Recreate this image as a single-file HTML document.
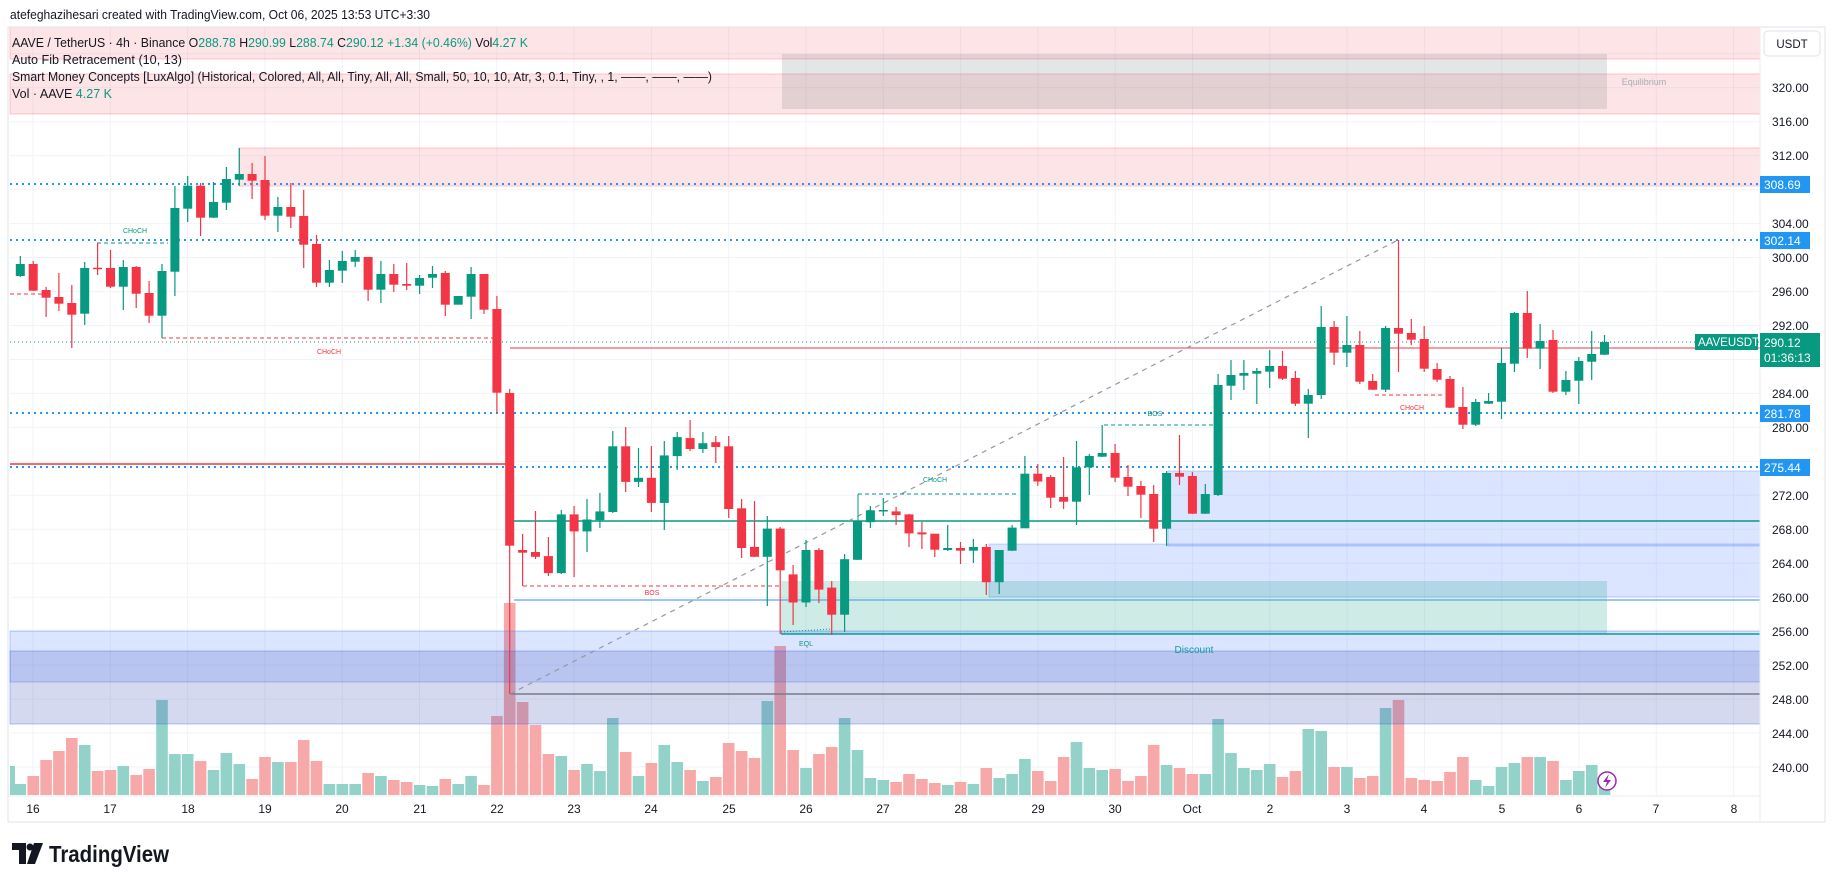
<!DOCTYPE html>
<html><head><meta charset="utf-8"><style>
html,body{margin:0;padding:0;background:#fff;}
svg{display:block;font-family:"Liberation Sans",sans-serif;}
.g{fill:#089981}.r{fill:#f23645}
</style></head><body>
<svg width="1835" height="883" viewBox="0 0 1835 883" xmlns="http://www.w3.org/2000/svg">
<rect width="1835" height="883" fill="#fff"/>
<path stroke="#f0f3fa" stroke-width="1" fill="none" d="M10 767H1760M10 733H1760M10 699.1H1760M10 665.1H1760M10 631.2H1760M10 597.2H1760M10 563.2H1760M10 529.3H1760M10 495.3H1760M10 461.4H1760M10 427.4H1760M10 393.4H1760M10 359.5H1760M10 325.5H1760M10 291.6H1760M10 257.6H1760M10 223.6H1760M10 189.7H1760M10 155.7H1760M10 121.8H1760M10 87.8H1760M10 53.8H1760M33 27V796M110.3 27V796M187.6 27V796M264.9 27V796M342.2 27V796M419.5 27V796M496.8 27V796M574.1 27V796M651.4 27V796M728.7 27V796M806 27V796M883.3 27V796M960.6 27V796M1037.9 27V796M1115.2 27V796M1192.5 27V796M1269.8 27V796M1347.1 27V796M1424.4 27V796M1501.7 27V796M1579 27V796M1656.3 27V796M1733.6 27V796"/>
<!-- volume -->
<path fill="#92d2c9" d="M10 766h5V795h-5zM14.5 784h11.6V795h-11.6zM78.9 745h11.6V795h-11.6zM117.5 766h11.6V795h-11.6zM156.2 700h11.6V795h-11.6zM169.1 754h11.6V795h-11.6zM181.9 754h11.6V795h-11.6zM207.7 770h11.6V795h-11.6zM220.6 753h11.6V795h-11.6zM233.5 764h11.6V795h-11.6zM272.1 762h11.6V795h-11.6zM323.6 784h11.6V795h-11.6zM336.5 784h11.6V795h-11.6zM349.4 784h11.6V795h-11.6zM375.1 776h11.6V795h-11.6zM413.8 785h11.6V795h-11.6zM426.7 786h11.6V795h-11.6zM452.4 784h11.6V795h-11.6zM465.3 776h11.6V795h-11.6zM555.5 756h11.6V795h-11.6zM581.2 764h11.6V795h-11.6zM594.1 771h11.6V795h-11.6zM607 718h11.6V795h-11.6zM632.7 776h11.6V795h-11.6zM658.5 745h11.6V795h-11.6zM671.4 762h11.6V795h-11.6zM697.1 781h11.6V795h-11.6zM761.5 701h11.6V795h-11.6zM800.2 768h11.6V795h-11.6zM838.8 718h11.6V795h-11.6zM851.7 750h11.6V795h-11.6zM864.6 778h11.6V795h-11.6zM877.5 780h11.6V795h-11.6zM941.9 785h11.6V795h-11.6zM967.6 784h11.6V795h-11.6zM993.4 778h11.6V795h-11.6zM1006.3 774h11.6V795h-11.6zM1019.1 759h11.6V795h-11.6zM1070.7 742h11.6V795h-11.6zM1083.5 768h11.6V795h-11.6zM1096.4 770h11.6V795h-11.6zM1160.8 765h11.6V795h-11.6zM1199.5 774h11.6V795h-11.6zM1212.3 719h11.6V795h-11.6zM1225.2 753h11.6V795h-11.6zM1238.1 768h11.6V795h-11.6zM1251 770h11.6V795h-11.6zM1263.9 764h11.6V795h-11.6zM1302.5 729h11.6V795h-11.6zM1315.4 731h11.6V795h-11.6zM1341.1 767h11.6V795h-11.6zM1379.8 708h11.6V795h-11.6zM1469.9 780h11.6V795h-11.6zM1482.8 786h11.6V795h-11.6zM1495.7 767h11.6V795h-11.6zM1508.6 763h11.6V795h-11.6zM1534.3 757h11.6V795h-11.6zM1560.1 780h11.6V795h-11.6zM1573 771h11.6V795h-11.6zM1585.9 765h11.6V795h-11.6zM1598.7 777h11.6V795h-11.6z"/>
<path fill="#f7a9a9" d="M27.4 776h11.6V795h-11.6zM40.3 760h11.6V795h-11.6zM53.1 751h11.6V795h-11.6zM66 738h11.6V795h-11.6zM91.8 771h11.6V795h-11.6zM104.7 770h11.6V795h-11.6zM130.4 775h11.6V795h-11.6zM143.3 769h11.6V795h-11.6zM194.8 761h11.6V795h-11.6zM246.3 779h11.6V795h-11.6zM259.2 757h11.6V795h-11.6zM285 762h11.6V795h-11.6zM297.9 740h11.6V795h-11.6zM310.7 761h11.6V795h-11.6zM362.3 773h11.6V795h-11.6zM388 780h11.6V795h-11.6zM400.9 782h11.6V795h-11.6zM439.5 779h11.6V795h-11.6zM478.2 785h11.6V795h-11.6zM491.1 716h11.6V795h-11.6zM503.9 603h11.6V795h-11.6zM516.8 702h11.6V795h-11.6zM529.7 725h11.6V795h-11.6zM542.6 754h11.6V795h-11.6zM568.3 770h11.6V795h-11.6zM619.9 752h11.6V795h-11.6zM645.6 763h11.6V795h-11.6zM684.3 770h11.6V795h-11.6zM710 777h11.6V795h-11.6zM722.9 743h11.6V795h-11.6zM735.8 751h11.6V795h-11.6zM748.7 758h11.6V795h-11.6zM774.4 646h11.6V795h-11.6zM787.3 750h11.6V795h-11.6zM813.1 754h11.6V795h-11.6zM825.9 747h11.6V795h-11.6zM890.3 782h11.6V795h-11.6zM903.2 774h11.6V795h-11.6zM916.1 779h11.6V795h-11.6zM929 783h11.6V795h-11.6zM954.7 782h11.6V795h-11.6zM980.5 768h11.6V795h-11.6zM1032 771h11.6V795h-11.6zM1044.9 781h11.6V795h-11.6zM1057.8 757h11.6V795h-11.6zM1109.3 769h11.6V795h-11.6zM1122.2 781h11.6V795h-11.6zM1135.1 776h11.6V795h-11.6zM1147.9 745h11.6V795h-11.6zM1173.7 768h11.6V795h-11.6zM1186.6 774h11.6V795h-11.6zM1276.7 777h11.6V795h-11.6zM1289.6 771h11.6V795h-11.6zM1328.3 767h11.6V795h-11.6zM1354 778h11.6V795h-11.6zM1366.9 776h11.6V795h-11.6zM1392.7 700h11.6V795h-11.6zM1405.5 778h11.6V795h-11.6zM1418.4 780h11.6V795h-11.6zM1431.3 781h11.6V795h-11.6zM1444.2 772h11.6V795h-11.6zM1457.1 757h11.6V795h-11.6zM1521.5 757h11.6V795h-11.6zM1547.2 761h11.6V795h-11.6z"/>
<!-- zones -->
<rect x="10" y="27" width="1750" height="32" fill="rgba(242,54,69,0.13)" stroke="rgba(242,54,69,0.25)"/>
<rect x="10" y="74" width="1750" height="40" fill="rgba(242,54,69,0.13)" stroke="rgba(242,54,69,0.25)"/>
<rect x="782" y="54" width="825" height="55" fill="rgba(120,123,134,0.2)"/>
<rect x="239" y="148" width="1521" height="38" fill="rgba(242,54,69,0.13)" stroke="rgba(242,54,69,0.25)"/>
<rect x="1168" y="471" width="592" height="75" fill="rgba(41,98,255,0.17)" stroke="rgba(41,98,255,0.25)"/>
<rect x="989" y="544" width="771" height="53" fill="rgba(41,98,255,0.17)" stroke="rgba(41,98,255,0.25)"/>
<rect x="781" y="581" width="826" height="53" fill="rgba(8,153,129,0.2)"/>
<rect x="10" y="631" width="1750" height="51" fill="rgba(41,98,255,0.17)" stroke="rgba(41,98,255,0.3)"/>
<rect x="10" y="651" width="1750" height="73" fill="rgba(63,81,181,0.22)" stroke="rgba(41,98,255,0.35)"/>
<!-- lines -->
<g fill="none">
<line x1="10" y1="184" x2="1760" y2="184" stroke="#2196f3" stroke-width="2" stroke-dasharray="2 4"/>
<line x1="10" y1="240" x2="1760" y2="240" stroke="#2196f3" stroke-width="2" stroke-dasharray="2 4"/>
<line x1="10" y1="413" x2="1760" y2="413" stroke="#2196f3" stroke-width="2" stroke-dasharray="2 4"/>
<line x1="10" y1="467" x2="1760" y2="467" stroke="#2196f3" stroke-width="2" stroke-dasharray="2 4"/>
<line x1="10" y1="464" x2="510" y2="464" stroke="#f23645" stroke-width="1.5"/>
<line x1="10" y1="342" x2="1760" y2="342" stroke="#089981" stroke-width="1" stroke-dasharray="1 3"/>
<line x1="510" y1="348" x2="1760" y2="348" stroke="#f23645" stroke-width="1"/>
<line x1="514" y1="521" x2="1760" y2="521" stroke="#089981" stroke-width="1.5"/>
<line x1="514" y1="600" x2="1760" y2="600" stroke="#5aa7e8" stroke-width="1.2"/>
<line x1="781" y1="634" x2="1760" y2="634" stroke="#0f9a9a" stroke-width="1.5"/>
<line x1="510" y1="694" x2="1760" y2="694" stroke="#787b86" stroke-width="1.5"/>
<line x1="510" y1="694" x2="1398" y2="240" stroke="#9598a1" stroke-width="1.2" stroke-dasharray="5 5"/>
<line x1="10" y1="294" x2="42" y2="294" stroke="#f23645" stroke-width="1" stroke-dasharray="4 3"/>
<line x1="162" y1="338" x2="493" y2="338" stroke="#f23645" stroke-width="1" stroke-dasharray="4 3"/>
<line x1="97" y1="243" x2="168" y2="243" stroke="#089981" stroke-width="1" stroke-dasharray="4 3"/>
<line x1="523" y1="586" x2="781" y2="586" stroke="#f23645" stroke-width="1" stroke-dasharray="4 3"/>
<line x1="858" y1="494" x2="1018" y2="494" stroke="#089981" stroke-width="1" stroke-dasharray="4 3"/>
<line x1="858" y1="494" x2="858" y2="521" stroke="#089981" stroke-width="1"/>
<line x1="1104" y1="425" x2="1216" y2="425" stroke="#089981" stroke-width="1" stroke-dasharray="4 3"/>
<line x1="1375" y1="395" x2="1445" y2="395" stroke="#f23645" stroke-width="1" stroke-dasharray="4 3"/>
<line x1="781" y1="632" x2="832" y2="629" stroke="#089981" stroke-width="1" stroke-dasharray="1 2"/>
</g>
<!-- wicks -->
<path fill="none" stroke="#089981" stroke-width="1.2" d="M20.3 256V277M84.7 262V325M123.3 260V310M162 264V338M174.9 186V296M187.7 176V222M213.5 182V218M226.4 167V210M239.3 148V186M277.9 197V232M329.4 260V287M342.3 251V283M355.2 250V267M380.9 261V303M419.6 275V294M432.5 266V288M471.1 267V319M561.3 510V574M587 499V552M599.9 493V528M612.8 431V513M638.5 448V487M664.3 441V530M677.2 432V470M702.9 432V453M767.3 516V606M806 540V607M844.6 554V632M857.5 521V560M870.4 506V528M883.3 498V516M947.7 525V551M973.4 539V563M999.2 550V594M1012.1 525V551M1024.9 456V528M1076.5 441V525M1089.3 454V495M1102.2 425V457M1166.6 471V546M1205.3 484V514M1218.1 374V496M1231 360V400M1243.9 360V390M1256.8 368V404M1269.7 350V388M1308.3 389V438M1321.2 306V399M1346.9 316V367M1385.6 326V392M1475.7 399V426M1488.6 393V404M1501.5 348V419M1514.4 312V372M1540.1 324V369M1565.9 371V395M1578.8 357V404M1591.7 331V380M1604.5 335V355"/>
<path fill="none" stroke="#f23645" stroke-width="1.2" d="M33.2 261V291M46.1 287V317M58.9 273V311M71.8 285V348M97.6 243V275M110.5 250V288M136.2 266V308M149.1 281V323M200.6 183V236M252.1 163V199M265 156V220M290.8 183V228M303.7 190V268M316.5 235V287M368.1 257V301M393.8 264V292M406.7 263V290M445.3 271V316M484 274V314M496.9 296V413M509.7 389V694M522.6 534V586M535.5 511V559M548.4 537V576M574.1 506V577M625.7 427V492M651.4 446V512M690.1 420V451M715.8 436V463M728.7 436V518M741.6 499V558M754.5 501V557M780.2 527V634M793.1 565V625M818.9 548V603M831.7 581V635M896.1 507V525M909 514V547M921.9 522V549M934.8 534V557M960.5 542V564M986.3 544V595M1037.8 464V486M1050.7 475V508M1063.6 457V509M1115.1 444V482M1128 465V496M1140.9 481V518M1153.7 485V542M1179.5 435V485M1192.4 472V514M1282.5 351V380M1295.4 371V406M1334.1 321V365M1359.8 331V384M1372.7 374V390M1398.5 240V372M1411.3 319V345M1424.2 326V372M1437.1 363V382M1450 376V408M1462.9 387V429M1527.3 291V358M1553 330V393"/>
<!-- bodies -->
<g class="g">
<rect x="15.8" y="264" width="9" height="12"/><rect x="80.2" y="268" width="9" height="45.7"/><rect x="118.8" y="267" width="9" height="19.7"/><rect x="157.5" y="271" width="9" height="44.7"/><rect x="170.4" y="208" width="9" height="63.7"/><rect x="183.2" y="185.7" width="9" height="23"/><rect x="209" y="202" width="9" height="15.7"/><rect x="221.9" y="179" width="9" height="23.7"/><rect x="234.8" y="174" width="9" height="5.7"/><rect x="273.4" y="207" width="9" height="8.7"/><rect x="324.9" y="270" width="9" height="12.7"/><rect x="337.8" y="261" width="9" height="9.7"/><rect x="350.7" y="257" width="9" height="4.7"/><rect x="376.4" y="274" width="9" height="15.7"/><rect x="415.1" y="278" width="9" height="7.7"/><rect x="428" y="274" width="9" height="3.7"/><rect x="453.7" y="296" width="9" height="8.7"/><rect x="466.6" y="274" width="9" height="22.7"/>
<rect x="556.8" y="514.4" width="9" height="58.7"/><rect x="582.5" y="519.5" width="9" height="11.9"/><rect x="595.4" y="511.4" width="9" height="8.8"/><rect x="608.3" y="446.3" width="9" height="65.7"/><rect x="634" y="477.8" width="9" height="4.1"/><rect x="659.8" y="455.4" width="9" height="47.5"/><rect x="672.7" y="437.1" width="9" height="19"/><rect x="698.4" y="443.2" width="9" height="5.8"/><rect x="762.8" y="528.6" width="9" height="28.2"/><rect x="801.5" y="550" width="9" height="52.5"/><rect x="840.1" y="559.2" width="9" height="55.5"/><rect x="853" y="521.5" width="9" height="38.3"/><rect x="865.9" y="510.3" width="9" height="11.9"/><rect x="878.8" y="510" width="9" height="1.5"/><rect x="943.2" y="548" width="9" height="2"/><rect x="968.9" y="547" width="9" height="3.7"/><rect x="994.7" y="550" width="9" height="32.2"/><rect x="1007.6" y="527.6" width="9" height="23.1"/><rect x="1020.4" y="473.7" width="9" height="54.6"/>
<rect x="1072" y="467.3" width="9" height="34.4"/><rect x="1084.8" y="456" width="9" height="11.3"/><rect x="1097.7" y="453" width="9" height="3.7"/><rect x="1162.1" y="473" width="9" height="55.7"/><rect x="1200.8" y="494" width="9" height="19.7"/><rect x="1213.6" y="385" width="9" height="110"/><rect x="1226.5" y="375" width="9" height="10.7"/><rect x="1239.4" y="373" width="9" height="2.7"/><rect x="1252.3" y="371" width="9" height="2.7"/><rect x="1265.2" y="366" width="9" height="5.7"/><rect x="1303.8" y="395" width="9" height="8.7"/><rect x="1316.7" y="327" width="9" height="68"/><rect x="1342.4" y="345" width="9" height="7.7"/><rect x="1381.1" y="328" width="9" height="61.7"/><rect x="1471.2" y="402" width="9" height="22.7"/><rect x="1484.1" y="401" width="9" height="2.7"/><rect x="1497" y="363" width="9" height="38.7"/><rect x="1509.9" y="313" width="9" height="50.7"/><rect x="1535.6" y="341" width="9" height="7.7"/><rect x="1561.4" y="380" width="9" height="11.7"/><rect x="1574.3" y="361" width="9" height="19.7"/><rect x="1587.2" y="354" width="9" height="7.7"/><rect x="1600" y="342" width="9" height="12.7"/>
</g>
<g class="r">
<rect x="28.7" y="264" width="9" height="26.7"/><rect x="41.6" y="290" width="9" height="7.7"/><rect x="54.4" y="297" width="9" height="6.7"/><rect x="67.3" y="303" width="9" height="11.7"/><rect x="93.1" y="267.7" width="9" height="1.5"/><rect x="106" y="268" width="9" height="18.7"/><rect x="131.7" y="267" width="9" height="26.7"/><rect x="144.6" y="293" width="9" height="22.7"/><rect x="196.1" y="185.7" width="9" height="32"/><rect x="247.6" y="174" width="9" height="6.7"/><rect x="260.5" y="180" width="9" height="35.7"/><rect x="286.3" y="207" width="9" height="9.7"/><rect x="299.2" y="216" width="9" height="28.7"/><rect x="312" y="244" width="9" height="38.7"/><rect x="363.6" y="257" width="9" height="32.7"/><rect x="389.3" y="274" width="9" height="10.7"/><rect x="402.2" y="284" width="9" height="1.7"/><rect x="440.8" y="273" width="9" height="31.7"/><rect x="479.5" y="274" width="9" height="35.7"/><rect x="492.4" y="309" width="9" height="83.7"/><rect x="505.2" y="393" width="9" height="152.7"/>
<rect x="518.1" y="550" width="9" height="2.7"/><rect x="531" y="552" width="9" height="4.8"/><rect x="543.9" y="556.1" width="9" height="17"/><rect x="569.6" y="514.4" width="9" height="17"/><rect x="621.2" y="446.3" width="9" height="35.6"/><rect x="646.9" y="477.8" width="9" height="25.1"/><rect x="685.6" y="438.1" width="9" height="10.9"/><rect x="711.3" y="442.2" width="9" height="4.8"/><rect x="724.2" y="446.3" width="9" height="62.7"/><rect x="737.1" y="508.3" width="9" height="39.7"/><rect x="750" y="546.9" width="9" height="9.9"/><rect x="775.7" y="528.6" width="9" height="41.7"/><rect x="788.6" y="574.4" width="9" height="28.1"/><rect x="814.4" y="550" width="9" height="39.6"/><rect x="827.2" y="587.6" width="9" height="27.1"/><rect x="891.6" y="511.4" width="9" height="3.7"/><rect x="904.5" y="514.4" width="9" height="19"/><rect x="917.4" y="532.4" width="9" height="2"/><rect x="930.3" y="533.7" width="9" height="16"/><rect x="956" y="548" width="9" height="2.7"/><rect x="981.8" y="547" width="9" height="35.2"/><rect x="1033.3" y="473.7" width="9" height="7.8"/>
<rect x="1046.2" y="477" width="9" height="20.7"/><rect x="1059.1" y="497" width="9" height="4.7"/><rect x="1110.6" y="453" width="9" height="24.7"/><rect x="1123.5" y="477" width="9" height="9.7"/><rect x="1136.4" y="486" width="9" height="8.7"/><rect x="1149.2" y="494" width="9" height="34.7"/><rect x="1175" y="473" width="9" height="3.7"/><rect x="1187.9" y="476" width="9" height="37.7"/><rect x="1278" y="366" width="9" height="12.7"/><rect x="1290.9" y="378" width="9" height="25.7"/><rect x="1329.6" y="327" width="9" height="25.7"/><rect x="1355.3" y="345" width="9" height="36.7"/><rect x="1368.2" y="381" width="9" height="8.7"/><rect x="1394" y="328" width="9" height="5.7"/><rect x="1406.8" y="333" width="9" height="6.7"/><rect x="1419.7" y="339" width="9" height="29.7"/><rect x="1432.6" y="369" width="9" height="10.7"/><rect x="1445.5" y="379" width="9" height="28.7"/><rect x="1458.4" y="407" width="9" height="17.7"/><rect x="1522.8" y="313" width="9" height="35.7"/><rect x="1548.5" y="340" width="9" height="51.7"/>
</g>
<!-- small labels -->
<g font-size="7" text-anchor="middle">
<text x="135" y="233" fill="#089981">CHoCH</text>
<text x="329" y="354" fill="#f23645">CHoCH</text>
<text x="652" y="595" fill="#f23645">BOS</text>
<text x="935" y="482" fill="#089981">CHoCH</text>
<text x="1155" y="416" fill="#089981">BOS</text>
<text x="1412" y="410" fill="#f23645">CHoCH</text>
<text x="806" y="646" fill="#089981">EQL</text>
</g>
<text x="1194" y="653" font-size="10" text-anchor="middle" fill="#0f9a9a">Discount</text>
<text x="1644" y="85" font-size="9" text-anchor="middle" fill="#a8abb3">Equilibrium</text>
<!-- header & legend -->
<text x="10" y="19" font-size="13" fill="#131722" textLength="420" lengthAdjust="spacingAndGlyphs">atefeghazihesari created with TradingView.com, Oct 06, 2025 13:53 UTC+3:30</text>
<text x="12" y="47" font-size="12.5" fill="#131722" textLength="516" lengthAdjust="spacingAndGlyphs">AAVE / TetherUS · 4h · Binance  O<tspan fill="#089981">288.78</tspan> H<tspan fill="#089981">290.99</tspan> L<tspan fill="#089981">288.74</tspan> C<tspan fill="#089981">290.12</tspan> <tspan fill="#089981">+1.34 (+0.46%)</tspan> Vol<tspan fill="#089981">4.27 K</tspan></text>
<text x="12" y="64" font-size="12.5" fill="#131722" textLength="170" lengthAdjust="spacingAndGlyphs">Auto Fib Retracement (10, 13)</text>
<text x="12" y="81" font-size="12.5" fill="#131722" textLength="700" lengthAdjust="spacingAndGlyphs">Smart Money Concepts [LuxAlgo] (Historical, Colored, All, All, Tiny, All, All, Small, 50, 10, 10, Atr, 3, 0.1, Tiny, , 1, ——, ——, ——)</text>
<text x="12" y="98" font-size="12.5" fill="#131722" textLength="100" lengthAdjust="spacingAndGlyphs">Vol · AAVE  <tspan fill="#089981">4.27 K</tspan></text>
<!-- frame -->
<rect x="8" y="27" width="1817" height="795" fill="none" stroke="#e0e3eb"/>
<line x1="1760" y1="27" x2="1760" y2="822" stroke="#eceef2"/>
<line x1="8" y1="796" x2="1760" y2="796" stroke="#eceef2"/>
<!-- price axis -->
<rect x="1764" y="31" width="56" height="25" rx="4" fill="#fff" stroke="#e0e3eb"/>
<text x="1792" y="48" font-size="11.5" text-anchor="middle" fill="#131722">USDT</text>
<g font-size="12" fill="#131722">
<text x="1772" y="92">320.00</text><text x="1772" y="126">316.00</text><text x="1772" y="160">312.00</text>
<text x="1772" y="228">304.00</text><text x="1772" y="262">300.00</text><text x="1772" y="296">296.00</text>
<text x="1772" y="330">292.00</text><text x="1772" y="398">284.00</text><text x="1772" y="432">280.00</text>
<text x="1772" y="500">272.00</text><text x="1772" y="534">268.00</text><text x="1772" y="568">264.00</text>
<text x="1772" y="602">260.00</text><text x="1772" y="636">256.00</text><text x="1772" y="670">252.00</text>
<text x="1772" y="704">248.00</text><text x="1772" y="738">244.00</text><text x="1772" y="772">240.00</text>
</g>
<g font-size="12" fill="#fff">
<rect x="1760" y="176" width="50" height="17" fill="#2196f3"/><text x="1764" y="189">308.69</text>
<rect x="1760" y="232" width="50" height="17" fill="#2196f3"/><text x="1764" y="245">302.14</text>
<rect x="1760" y="405" width="50" height="17" fill="#2196f3"/><text x="1764" y="418">281.78</text>
<rect x="1760" y="459" width="50" height="17" fill="#2196f3"/><text x="1764" y="472">275.44</text>
<rect x="1760" y="333" width="60" height="34" fill="#089981"/><text x="1764" y="347">290.12</text><text x="1764" y="362">01:36:13</text>
<rect x="1695" y="334" width="63" height="16" fill="#089981"/><text x="1698" y="346" font-size="11.5">AAVEUSDT</text>
</g>
<!-- date axis -->
<g font-size="12" fill="#131722" text-anchor="middle">
<text x="33" y="813">16</text><text x="110" y="813">17</text><text x="188" y="813">18</text><text x="265" y="813">19</text>
<text x="342" y="813">20</text><text x="420" y="813">21</text><text x="497" y="813">22</text><text x="574" y="813">23</text>
<text x="651" y="813">24</text><text x="729" y="813">25</text><text x="806" y="813">26</text><text x="883" y="813">27</text>
<text x="961" y="813">28</text><text x="1038" y="813">29</text><text x="1115" y="813">30</text><text x="1192" y="813">Oct</text>
<text x="1270" y="813">2</text><text x="1347" y="813">3</text><text x="1424" y="813">4</text><text x="1502" y="813">5</text>
<text x="1579" y="813">6</text><text x="1656" y="813">7</text><text x="1734" y="813">8</text>
</g>
<circle cx="1607" cy="781" r="9" fill="#fff" stroke="#9c27b0" stroke-width="1.5"/>
<path d="M1609 774 L1603 782 L1607 782 L1605 788 L1611 780 L1607 780 Z" fill="#9c27b0"/>
<!-- logo -->
<g fill="#131722">
<path d="M12 843 H26 V864 H19 V850 H12 Z"/>
<circle cx="30" cy="847" r="3.5"/>
<path d="M34 843 H43 L35 864 H27 Z"/>
</g>
<text x="49" y="862" font-size="23" font-weight="bold" fill="#131722" textLength="120" lengthAdjust="spacingAndGlyphs">TradingView</text>
</svg>
</body></html>
